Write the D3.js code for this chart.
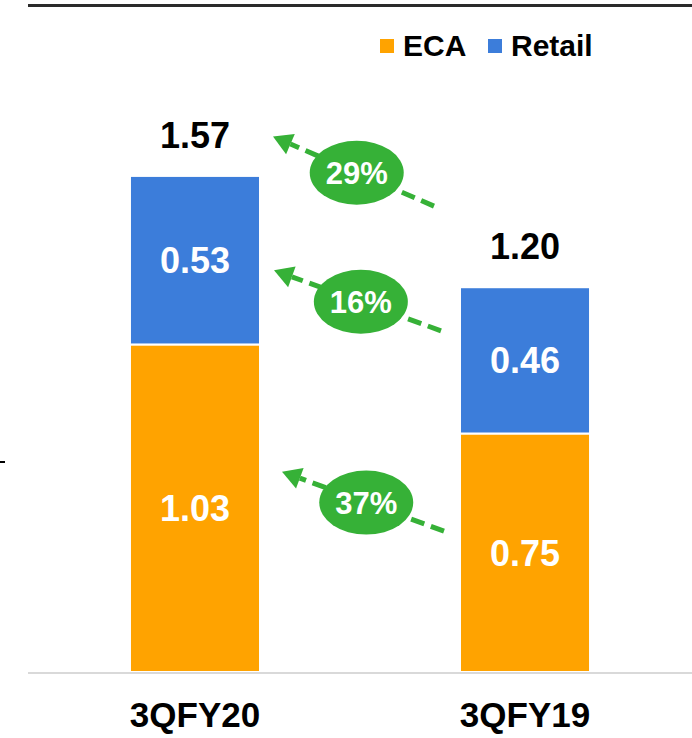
<!DOCTYPE html>
<html>
<head>
<meta charset="utf-8">
<script src="https://cdn.jsdelivr.net/npm/d3@7/dist/d3.min.js"></script>
<style>
  html, body { margin: 0; padding: 0; background: #fff; }
  svg { display: block; font-family: "Liberation Sans", Arial, Helvetica, sans-serif; }
</style>
</head>
<body>
<svg id="chart" width="692" height="738"></svg>
<script>
// ---- data ----
const categories = ["3QFY20", "3QFY19"];
const ecaValues = [1.03, 0.75];
const retailValues = [0.53, 0.46];
const totalLabels = ["1.57", "1.20"];
const seriesNames = ["ECA", "Retail"];
// growth annotations: label, value level at arrow tip (left) and tail (right)
const growthLabels = ["29%", "16%", "37%"];
const growthTipValues = [1.684, 1.263, 0.63];
const growthTailValues = [1.465, 1.073, 0.443];

const colors = { ECA: "#FFA300", Retail: "#3C7DDA" };
const green = "#36B137";

const W = 692, H = 738;
const svg = d3.select("#chart");

const x = d3.scaleBand().domain(categories).range([28, 692])
  .paddingInner(0.606).paddingOuter(0.309);
const y = d3.scaleLinear().domain([0, 2]).range([672, 36]);

// top rule
svg.append("line").attr("x1", 28).attr("x2", 692).attr("y1", 5.5).attr("y2", 5.5)
  .attr("stroke", "#2a2a2a").attr("stroke-width", 3);
// small left tick
svg.append("line").attr("x1", 0).attr("x2", 5).attr("y1", 462).attr("y2", 462)
  .attr("stroke", "#000").attr("stroke-width", 2);

// stacked data
const rows = categories.map((c, i) => ({ cat: c, ECA: ecaValues[i], Retail: retailValues[i], total: totalLabels[i] }));
const stack = d3.stack().keys(seriesNames)(rows);

const g = svg.append("g");
stack.forEach(layer => {
  g.selectAll(null).data(layer).enter().append("rect")
    .attr("x", d => x(d.data.cat))
    .attr("width", x.bandwidth())
    .attr("y", d => y(d[1]))
    .attr("height", d => y(d[0]) - y(d[1]))
    .attr("fill", colors[layer.key])
    .attr("stroke", "#fff").attr("stroke-width", 2);
  g.selectAll(null).data(layer).enter().append("text")
    .attr("x", d => x(d.data.cat) + x.bandwidth() / 2)
    .attr("y", d => (y(d[0]) + y(d[1])) / 2)
    .attr("dy", "0.36em")
    .attr("text-anchor", "middle")
    .attr("fill", "#fff").attr("font-weight", "bold").attr("font-size", 36)
    .text(d => d.data[layer.key].toFixed(2));
});

// totals
g.selectAll(null).data(rows).enter().append("text")
  .attr("x", d => x(d.cat) + x.bandwidth() / 2)
  .attr("y", d => y(d.ECA + d.Retail) - 28)
  .attr("text-anchor", "middle")
  .attr("fill", "#000").attr("font-weight", "bold").attr("font-size", 36)
  .text(d => d.total);

// baseline
svg.append("line").attr("x1", 28).attr("x2", 692).attr("y1", y(0) + 1).attr("y2", y(0) + 1)
  .attr("stroke", "#d9d9d9").attr("stroke-width", 2);

// category axis labels
const xAxis = d3.axisBottom(x).tickSize(0).tickPadding(0);
const ax = svg.append("g").attr("transform", `translate(0,${y(0)})`).call(xAxis);
ax.select(".domain").remove();
ax.selectAll("text").attr("y", 55).attr("dy", 0)
  .attr("font-size", 35).attr("font-weight", "bold").attr("fill", "#000")
  .attr("font-family", "\"Liberation Sans\", Arial, sans-serif");

// legend
const leg = svg.append("g");
const legItems = [{ k: "ECA", x: 380 }, { k: "Retail", x: 488 }];
legItems.forEach(it => {
  leg.append("rect").attr("x", it.x).attr("y", 39).attr("width", 14).attr("height", 14)
    .attr("fill", colors[it.k]);
  leg.append("text").attr("x", it.x + 23).attr("y", 55.5)
    .attr("font-size", 30).attr("font-weight", "bold").attr("fill", "#000").text(it.k);
});

// growth arrows
const xTip = [x(categories[0]) + x.bandwidth() + 13, x(categories[0]) + x.bandwidth() + 14, x(categories[0]) + x.bandwidth() + 22];
const xTail = [x(categories[1]) - 26, x(categories[1]) - 19, x(categories[1]) - 16];
const ga = svg.append("g");
growthLabels.forEach((lab, i) => {
  const x1 = xTail[i], y1 = y(growthTailValues[i]);
  const x2 = xTip[i], y2 = y(growthTipValues[i]);
  const ang = Math.atan2(y2 - y1, x2 - x1);
  const headLen = 19, headHalf = 11;
  const bx = x2 - headLen * Math.cos(ang), by = y2 - headLen * Math.sin(ang);
  ga.append("line").attr("x1", x1).attr("y1", y1).attr("x2", bx).attr("y2", by)
    .attr("stroke", green).attr("stroke-width", 5).attr("stroke-dasharray", "14,7");
  const px = -Math.sin(ang), py = Math.cos(ang);
  ga.append("path")
    .attr("d", `M${x2},${y2}L${bx + px * headHalf},${by + py * headHalf}L${bx - px * headHalf},${by - py * headHalf}Z`)
    .attr("fill", green);
  const t = 0.52;
  const cx = x2 + (x1 - x2) * t, cy = y2 + (y1 - y2) * t;
  ga.append("ellipse").attr("cx", cx).attr("cy", cy).attr("rx", 47).attr("ry", 32).attr("fill", green);
  ga.append("text").attr("x", cx).attr("y", cy).attr("dy", "0.36em")
    .attr("text-anchor", "middle").attr("fill", "#fff").attr("font-weight", "bold").attr("font-size", 31)
    .text(lab);
});
</script>
</body>
</html>
